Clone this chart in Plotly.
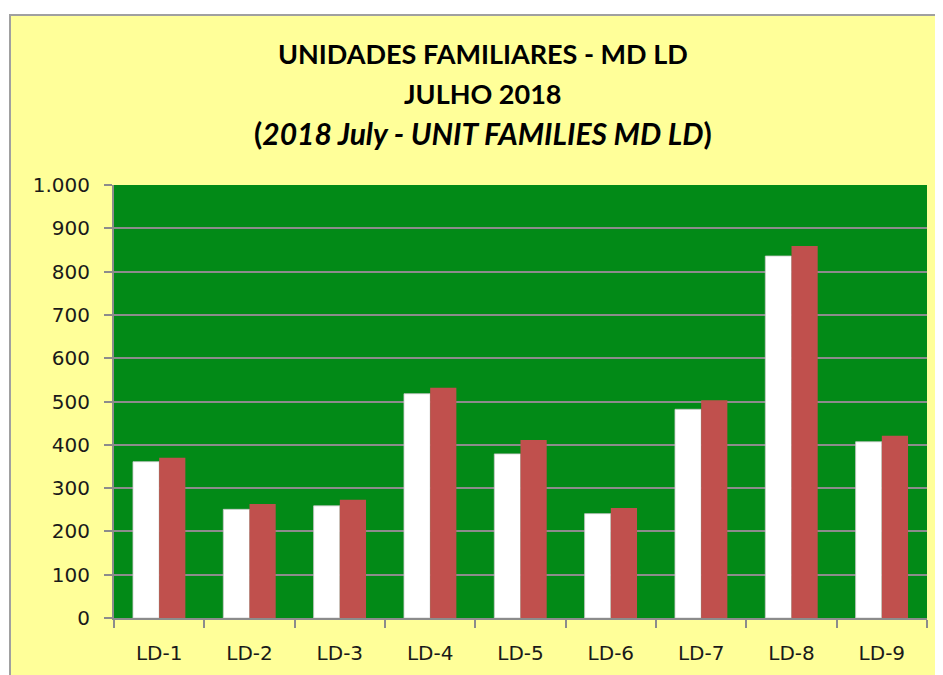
import plotly.graph_objects as go

categories = ["LD-1", "LD-2", "LD-3", "LD-4", "LD-5", "LD-6", "LD-7", "LD-8", "LD-9"]
series_white = [361, 251, 259, 518, 379, 241, 482, 836, 407]
series_red = [370, 263, 273, 532, 411, 254, 503, 859, 421]
y_ticks = [0, 100, 200, 300, 400, 500, 600, 700, 800, 900, 1000]
title_lines = ["<b>UNIDADES FAMILIARES - MD LD</b>", "<b>JULHO 2018</b>",
               "<b>(<i>2018 July - UNIT FAMILIES MD LD</i>)</b>"]
title_sizes = [27, 27, 30]

OFF = 8  # page body margin
W, H = 943 - OFF, 675 - OFF
# target plot area in page pixels: x 114..927, y 185..618
PX0, PX1, PY0, PY1 = 114, 927, 185, 618
L = PX0 - OFF
T = PY0 - OFF
R = W - (PX1 - OFF)
B = H - (PY1 - OFF)
pw, ph = PX1 - PX0, PY1 - PY0

def px_x(x):
    return (x - PX0) / pw

def px_y(y):
    return (PY1 - y) / ph

fig = go.Figure()
fig.add_trace(go.Bar(x=categories, y=series_white,
                     marker=dict(color="#FFFFFF", line=dict(color="#C8C8C8", width=0.8)),
                     showlegend=False))
fig.add_trace(go.Bar(x=categories, y=series_red,
                     marker=dict(color="#C0504D", line=dict(width=0)),
                     showlegend=False))

fig.update_layout(
    width=W, height=H,
    margin=dict(l=L, r=R, t=T, b=B),
    paper_bgcolor="#FFFF99",
    plot_bgcolor="#028A17",
    barmode="group", bargap=0.42, bargroupgap=0,
    separators=",.",
    font=dict(family="DejaVu Sans", size=20, color="#1A1A1A"),
)
fig.update_xaxes(
    showline=True, linecolor="#8C8C8C", linewidth=2,
    ticks="outside", ticklen=8, tickcolor="#8C8C8C", tickwidth=2,
    tickson="boundaries", ticklabelstandoff=16,
    showgrid=False, mirror=False, automargin=False,
)
fig.update_yaxes(
    range=[0, 1000], tickvals=y_ticks, tickformat=",d",
    showline=True, linecolor="#8C8C8C", linewidth=2,
    ticks="outside", ticklen=8, tickcolor="#8C8C8C", tickwidth=2,
    ticklabelstandoff=10, automargin=False,
    showgrid=True, gridcolor="#8C8C8C", gridwidth=1.5, zeroline=False,
)

# white outer strips (top and left) and gray border of the chart area
fig.add_shape(type="rect", xref="paper", yref="paper", layer="below",
              x0=px_x(0), x1=px_x(960), y0=px_y(14), y1=px_y(0),
              fillcolor="#FFFFFF", line=dict(width=0))
fig.add_shape(type="rect", xref="paper", yref="paper", layer="below",
              x0=px_x(0), x1=px_x(9), y0=px_y(700), y1=px_y(0),
              fillcolor="#FFFFFF", line=dict(width=0))
fig.add_shape(type="line", xref="paper", yref="paper", layer="below",
              x0=px_x(9), x1=px_x(960), y0=px_y(15), y1=px_y(15),
              line=dict(color="#A0A0A0", width=2))
fig.add_shape(type="line", xref="paper", yref="paper", layer="below",
              x0=px_x(10), x1=px_x(10), y0=px_y(14), y1=px_y(700),
              line=dict(color="#A0A0A0", width=2))

ys = [54, 94, 133]
for txt, yy, sz in zip(title_lines, ys, title_sizes):
    fig.add_annotation(text=txt, xref="paper", yref="paper", x=px_x(483), y=px_y(yy),
                       xanchor="center", yanchor="middle", showarrow=False,
                       font=dict(family="Lato", size=sz, color="#000000"))

fig.write_html("out.html")
